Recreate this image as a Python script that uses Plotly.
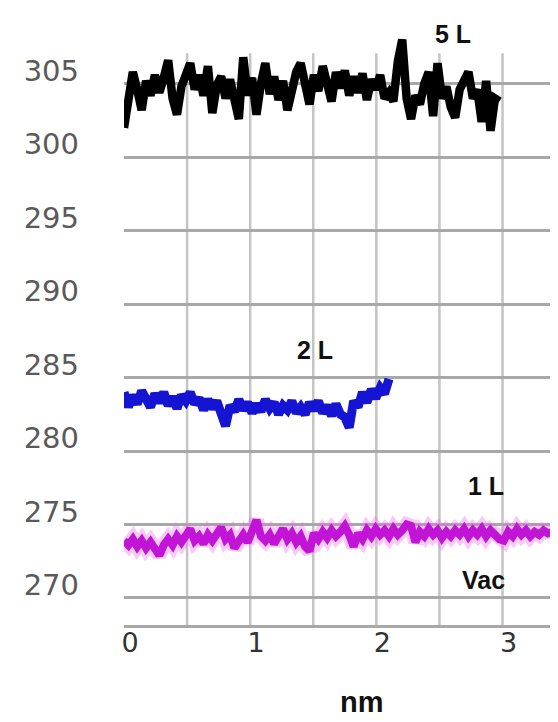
import plotly.graph_objects as go

# ---- data ----
x_step = 0.035  # nm between samples

five_L = [302.0, 304.5, 305.8, 304.6, 303.2, 305.2, 304.2, 305.6, 304.4, 305.4,
          306.6, 304.0, 302.9, 304.8, 305.5, 306.4, 304.6, 305.6, 304.2, 306.2,
          303.0, 304.9, 305.5, 304.0, 305.3, 303.8, 302.6, 306.8, 304.2, 305.4,
          302.9, 305.0, 306.4, 304.3, 305.5, 303.9, 305.2, 303.2, 304.8, 305.8,
          306.4, 304.6, 303.6, 305.6, 304.5, 306.2, 304.8, 303.8, 305.8, 304.7,
          305.9, 304.2, 305.5, 304.4, 305.7, 303.9, 305.3, 304.6, 305.6, 304.0,
          304.4, 303.8, 306.5, 308.0, 304.0, 302.6, 304.2, 303.6, 305.0, 305.8,
          302.8, 306.4, 304.0, 304.8, 303.4, 302.7, 304.6, 305.4, 305.8, 304.0,
          304.6, 302.4, 305.2, 301.8, 304.0, 303.8]

two_L = [284.0, 283.0, 283.8, 283.2, 284.1, 283.4, 283.0, 283.9, 283.3, 284.0,
         283.1, 283.7, 282.9, 283.8, 283.4, 284.0, 283.2, 283.6, 282.8, 283.5,
         282.9, 283.4, 282.6, 281.7, 283.1, 282.7, 283.5, 282.8, 283.3, 282.6,
         283.2, 282.7, 283.5, 282.9, 283.3, 282.5, 283.1, 282.8, 283.4, 282.6,
         283.0, 282.5, 283.3, 282.8, 283.4, 282.6, 283.1, 282.4, 283.2, 282.5,
         282.3, 281.6, 283.4, 283.0, 284.0, 283.3, 284.2, 283.6, 284.3, 283.9, 284.9]

one_L = [273.9, 273.6, 274.0, 273.5, 273.9, 273.4, 273.8, 273.3, 272.9, 273.6,
         274.0, 273.6, 274.2, 273.8, 274.3, 274.7, 273.9, 274.2, 273.7, 274.3,
         273.9, 274.4, 274.8, 274.0, 274.3, 273.4, 274.0, 274.3, 273.8, 274.4,
         275.3, 274.2, 273.9, 274.3, 273.7, 274.2, 274.7, 274.0, 274.4, 273.8,
         274.2, 273.5, 273.2, 274.4, 274.0, 274.5, 274.1, 274.6, 274.2, 274.5,
         274.9, 274.3, 273.5, 274.4, 274.0, 274.6, 274.2, 274.7, 274.3, 274.6,
         274.2, 274.7, 274.3, 274.6, 275.0, 274.9, 273.8, 274.5, 274.2, 274.7,
         274.3, 274.6, 274.1, 274.5, 274.2, 274.6, 274.3, 274.7, 274.2, 274.6,
         274.3, 274.7, 274.2, 274.6, 274.3, 274.0, 273.9, 274.5, 274.2, 274.7,
         274.3, 274.6, 274.2, 274.5, 274.3, 274.6, 274.4, 274.5]

y_ticks = [270, 275, 280, 285, 290, 295, 300, 305]
x_ticks = [0, 1, 2, 3]
x_grid = [0.5, 1.0, 1.5, 2.0, 2.5, 3.0]

labels = ["5 L", "2 L", "1 L", "Vac"]
label_x = [2.61, 1.51, 2.87, 2.85]
label_y = [308.4, 286.9, 277.6, 271.2]

x_range = [0, 3.4]
y_range = [268.16, 309.0]

fig = go.Figure()
# soft halo under the magenta trace
fig.add_trace(go.Scatter(y=one_L, x0=0, dx=x_step, mode="lines", opacity=0.35,
                         line=dict(color="#ee66ee", width=15), showlegend=False,
                         hoverinfo="skip"))
fig.add_trace(go.Scatter(y=one_L, x0=0, dx=x_step, mode="lines",
                         line=dict(color="#c214d6", width=8), showlegend=False))
fig.add_trace(go.Scatter(y=two_L, x0=0, dx=x_step, mode="lines",
                         line=dict(color="#1414d2", width=9), showlegend=False))
fig.add_trace(go.Scatter(y=five_L, x0=0, dx=x_step, mode="lines",
                         line=dict(color="#000000", width=8.5), showlegend=False))

shapes = []
for gx in x_grid:
    shapes.append(dict(type="line", xref="x", yref="y domain", x0=gx, x1=gx,
                       y0=0, y1=0.953, line=dict(color="#c4c4c4", width=2.5),
                       layer="below"))
shapes.append(dict(type="line", xref="x domain", yref="y domain", x0=1, x1=1,
                   y0=0, y1=0.961, line=dict(color="#b8b8b8", width=2.5),
                   layer="below"))

annotations = []
for t, ax_, ay_ in zip(labels, label_x, label_y):
    annotations.append(dict(text="<b>" + t + "</b>", x=ax_, y=ay_, xref="x", yref="y",
                            showarrow=False,
                            font=dict(family="Liberation Sans", size=25, color="#111111")))
annotations.append(dict(text="<b>nm</b>", x=0.555, y=-0.128, xref="paper", yref="paper",
                        xanchor="center", yanchor="middle", showarrow=False,
                        font=dict(family="Liberation Sans", size=29, color="#111111")))

# the page body has an 8 px margin, so the figure is 8 px smaller than the window
fig.update_layout(
    width=550, height=714,
    margin=dict(l=116, r=5, t=17, b=97),
    paper_bgcolor="white", plot_bgcolor="white",
    shapes=shapes, annotations=annotations,
    xaxis=dict(range=x_range, tickvals=x_ticks, ticktext=[str(v) for v in x_ticks],
               showgrid=False, zeroline=False, showline=True, linecolor="#a8a8a8",
               linewidth=3, ticks="", ticklabelstandoff=-8, ticklabelshift=6,
               automargin=False,
               tickfont=dict(family="DejaVu Sans", size=27, color="#333333")),
    yaxis=dict(range=y_range, tickvals=y_ticks, ticktext=[str(v) for v in y_ticks],
               showgrid=True, gridcolor="#a8a8a8", gridwidth=3, zeroline=False,
               showline=False, ticks="", ticklabelstandoff=44, ticklabelshift=-13,
               automargin=False,
               tickfont=dict(family="DejaVu Sans", size=29, color="#5a5a5a")),
)

fig.write_html("out.html")
